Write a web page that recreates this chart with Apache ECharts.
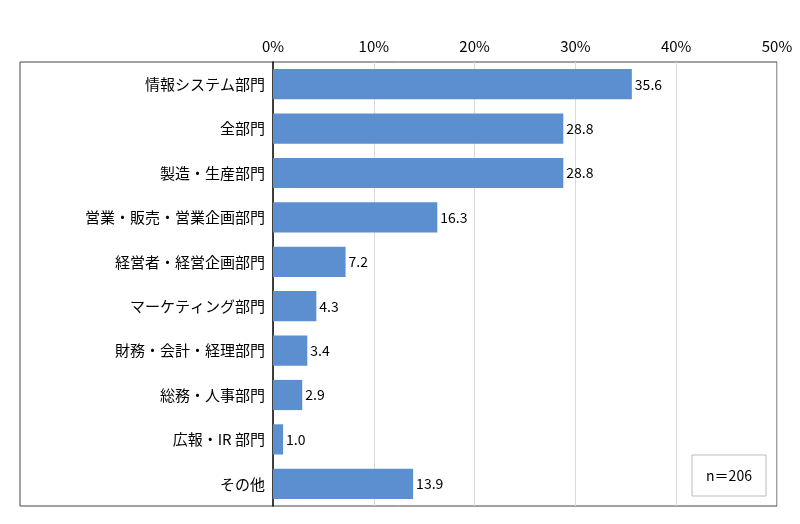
<!DOCTYPE html>
<html>
<head>
<meta charset="UTF-8">
<script src="https://cdn.jsdelivr.net/npm/echarts@6/dist/echarts.min.js"></script>
<style>html,body{margin:0;background:#fff;}#main{width:800px;height:524px;}</style>
</head>
<body>
<div id="main"></div>
<script>
const categories = ['情報システム部門', '全部門', '製造・生産部門', '営業・販売・営業企画部門', '経営者・経営企画部門', 'マーケティング部門', '財務・会計・経理部門', '総務・人事部門', '広報・IR 部門', 'その他'];
const values = [35.6, 28.8, 28.8, 16.3, 7.2, 4.3, 3.4, 2.9, 1.0, 13.9];
const sampleNote = 'n＝206';

const font = '"Noto Sans CJK JP", sans-serif';
let chart = echarts.init(document.getElementById('main'));
chart.setOption({
  animation: false,
  grid: { left: 273, right: 23, top: 62, bottom: 18 },
  xAxis: {
    type: 'value', position: 'top', min: 0, max: 50, interval: 10,
    axisLabel: { formatter: '{value}%', color: '#000', fontSize: 15, fontFamily: font },
    axisLine: { show: false }, axisTick: { show: false },
    splitLine: { lineStyle: { color: '#d9d9d9' } }
  },
  yAxis: {
    type: 'category', inverse: true, data: categories,
    axisLine: { lineStyle: { color: '#000', width: 1.5 } },
    axisTick: { length: 253, lineStyle: { color: '#333' } },
    axisLabel: { color: '#000', fontSize: 15, fontFamily: font, margin: 8 }
  },
  series: [{
    type: 'bar', data: values, barCategoryGap: '32%',
    itemStyle: { color: '#5b8fcf' },
    label: { show: true, position: 'right', color: '#000', fontSize: 14, fontFamily: font,
      formatter: p => p.value.toFixed(1), distance: 3 }
  }],
  graphic: [
    { type: 'rect', shape: { x: 20, y: 62, width: 757, height: 444 }, style: { fill: 'none', stroke: '#444', lineWidth: 1 }, silent: true },
    { type: 'rect', shape: { x: 692, y: 455, width: 74, height: 41 }, style: { fill: '#fff', stroke: '#bbb', lineWidth: 1 } },
    { type: 'text', x: 729, y: 476, style: { text: sampleNote, fill: '#000', font: '14px ' + font, textAlign: 'center', textVerticalAlign: 'middle' } }
  ]
});
</script>
</body>
</html>
